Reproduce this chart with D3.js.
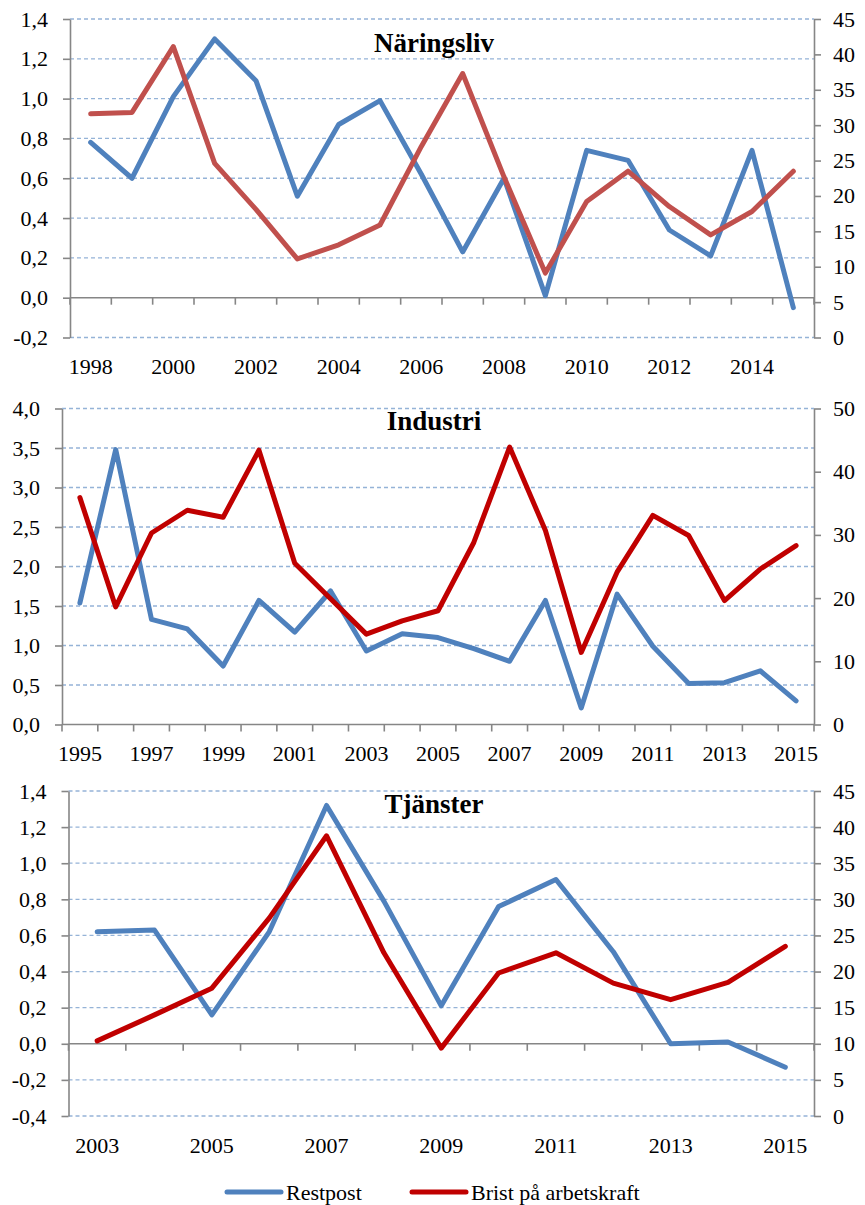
<!DOCTYPE html>
<html>
<head>
<meta charset="utf-8">
<script src="https://cdn.jsdelivr.net/npm/d3@7"></script>
<style>
  body { margin: 0; background: #fff; }
  svg text { font-family: "Liberation Serif", "Times New Roman", serif !important; fill: #000; }
</style>
</head>
<body>
<svg id="chart" width="865" height="1205"></svg>
<script>
// Näringsliv
var naringYears = [1998,1999,2000,2001,2002,2003,2004,2005,2006,2007,2008,2009,2010,2011,2012,2013,2014,2015];
var naringRest  = [0.78,0.60,1.01,1.30,1.09,0.51,0.87,0.99,0.62,0.23,0.60,0.01,0.74,0.69,0.34,0.21,0.74,-0.05];
var naringBrist = [31.6,31.8,41.1,24.6,18.1,11.1,13.1,15.9,27.0,37.3,22.7,9.1,19.2,23.5,18.5,14.5,17.8,23.5];
var naringLabels = [1998,2000,2002,2004,2006,2008,2010,2012,2014];
var naringLeftTicks = [-0.2,0,0.2,0.4,0.6,0.8,1.0,1.2,1.4];
var naringRightTicks = [0,5,10,15,20,25,30,35,40,45];

// Industri
var indYears = [1995,1996,1997,1998,1999,2000,2001,2002,2003,2004,2005,2006,2007,2008,2009,2010,2011,2012,2013,2014,2015];
var indRest  = [1.54,3.48,1.33,1.21,0.74,1.57,1.17,1.69,0.93,1.15,1.10,0.96,0.80,1.57,0.21,1.65,0.99,0.52,0.53,0.68,0.30];
var indBrist = [35.9,18.6,30.3,33.9,32.8,43.4,25.5,19.9,14.3,16.4,18.0,28.8,43.9,30.7,11.4,24.1,33.1,29.9,19.6,24.6,28.3];
var indLabels = [1995,1997,1999,2001,2003,2005,2007,2009,2011,2013,2015];
var indLeftTicks = [0,0.5,1.0,1.5,2.0,2.5,3.0,3.5,4.0];
var indRightTicks = [0,10,20,30,40,50];

// Tjänster
var tjYears = [2003,2004,2005,2006,2007,2008,2009,2010,2011,2012,2013,2014,2015];
var tjRest  = [0.62,0.63,0.16,0.62,1.32,0.79,0.21,0.76,0.91,0.51,0.00,0.01,-0.13];
var tjBrist = [10.4,14.0,17.7,27.4,38.8,22.6,9.4,19.8,22.6,18.4,16.1,18.5,23.5];
var tjLabels = [2003,2005,2007,2009,2011,2013,2015];
var tjLeftTicks = [-0.4,-0.2,0,0.2,0.4,0.6,0.8,1.0,1.2,1.4];
var tjRightTicks = [0,5,10,15,20,25,30,35,40,45];

var blue = "#4f81bd";
var axisGray = "#868686";
var gridBlue = "#95b3d7";
var serif = "'Liberation Serif', 'Times New Roman', serif";

var svg = d3.select("#chart");
var se = d3.formatLocale({decimal: ",", thousands: "\u00a0", grouping: [3], currency: ["", " kr"], minus: "-"});
var fmt1 = se.format(".1f");

var panels = [
  {title: "Näringsliv", years: naringYears, rest: naringRest, brist: naringBrist, labels: naringLabels,
   leftTicks: naringLeftTicks, rightTicks: naringRightTicks, red: "#c0504d",
   left: 70, right: 814, top: 19, bottom: 337.5, titleY: 52},
  {title: "Industri", years: indYears, rest: indRest, brist: indBrist, labels: indLabels,
   leftTicks: indLeftTicks, rightTicks: indRightTicks, red: "#c00000",
   left: 62, right: 814, top: 408.5, bottom: 724.5, titleY: 430},
  {title: "Tjänster", years: tjYears, rest: tjRest, brist: tjBrist, labels: tjLabels,
   leftTicks: tjLeftTicks, rightTicks: tjRightTicks, red: "#c00000",
   left: 68.5, right: 814, top: 791, bottom: 1116, titleY: 813}
];

panels.forEach(function(p) {
  var g = svg.append("g");
  var x = d3.scaleBand().domain(p.years).range([p.left, p.right]).padding(0);
  var yL = d3.scaleLinear().domain([d3.min(p.leftTicks), d3.max(p.leftTicks)]).range([p.bottom, p.top]);
  var yR = d3.scaleLinear().domain([d3.min(p.rightTicks), d3.max(p.rightTicks)]).range([p.bottom, p.top]);
  var y0 = yL(0);

  // dashed gridlines
  g.selectAll(".grid").data(p.leftTicks.filter(function(v) { return v !== 0; }))
    .join("line")
      .attr("x1", p.left).attr("x2", p.right)
      .attr("y1", function(d) { return yL(d); }).attr("y2", function(d) { return yL(d); })
      .attr("stroke", gridBlue).attr("stroke-width", 1.3).attr("stroke-dasharray", "4,3");

  // x axis line at zero + boundary ticks
  g.append("line").attr("x1", p.left).attr("x2", p.right).attr("y1", y0).attr("y2", y0)
    .attr("stroke", axisGray).attr("stroke-width", 1.6);
  var bounds = p.years.map(function(d) { return x(d); }).concat([p.right]);
  g.selectAll(".xt").data(bounds).join("line")
    .attr("x1", function(d) { return d; }).attr("x2", function(d) { return d; })
    .attr("y1", y0).attr("y2", y0 + 7)
    .attr("stroke", axisGray).attr("stroke-width", 1.6);

  // x labels
  var xa = g.append("g").attr("transform", "translate(0," + p.bottom + ")")
    .call(d3.axisBottom(x).tickValues(p.labels).tickSize(0).tickPadding(21).tickFormat(d3.format("d")));
  xa.select(".domain").remove();
  xa.attr("font-family", serif).attr("font-size", 22);
  xa.selectAll("text").style("font-family", serif).style("font-size", "22px");

  // left axis
  var la = g.append("g").attr("transform", "translate(" + p.left + ",0)")
    .call(d3.axisLeft(yL).tickValues(p.leftTicks).tickFormat(fmt1).tickSize(7).tickSizeOuter(0).tickPadding(15));
  // right axis
  var ra = g.append("g").attr("transform", "translate(" + p.right + ",0)")
    .call(d3.axisRight(yR).tickValues(p.rightTicks).tickFormat(d3.format("d")).tickSize(7).tickSizeOuter(0).tickPadding(12));
  [la, ra].forEach(function(a) {
    a.attr("font-family", serif).attr("font-size", 22);
    a.select(".domain").attr("stroke", axisGray).attr("stroke-width", 1.6);
    a.selectAll(".tick line").attr("stroke", axisGray).attr("stroke-width", 1.6);
    a.selectAll("text").style("font-family", serif).style("font-size", "22px");
  });

  // title
  g.append("text").attr("x", 434).attr("y", p.titleY).attr("text-anchor", "middle")
    .style("font-size", "27px").attr("font-weight", "bold").text(p.title);

  // series
  var cx = function(i) { return x(p.years[i]) + x.bandwidth() / 2; };
  var lineL = d3.line().x(function(d, i) { return cx(i); }).y(function(d) { return yL(d); });
  var lineR = d3.line().x(function(d, i) { return cx(i); }).y(function(d) { return yR(d); });
  g.append("path").attr("d", lineL(p.rest)).attr("fill", "none").attr("stroke", blue)
    .attr("stroke-width", 5).attr("stroke-linejoin", "round").attr("stroke-linecap", "round");
  g.append("path").attr("d", lineR(p.brist)).attr("fill", "none").attr("stroke", p.red)
    .attr("stroke-width", 5).attr("stroke-linejoin", "round").attr("stroke-linecap", "round");
});

// legend
var legendItems = [
  {name: "Restpost", color: blue, x: 227},
  {name: "Brist på arbetskraft", color: "#c00000", x: 412}
];
var lg = svg.append("g").attr("transform", "translate(0,1192)");
legendItems.forEach(function(d) {
  lg.append("line").attr("x1", d.x).attr("x2", d.x + 54).attr("y1", 0).attr("y2", 0)
    .attr("stroke", d.color).attr("stroke-width", 5).attr("stroke-linecap", "round");
  lg.append("text").attr("x", d.x + 59).attr("y", 0).attr("dy", "0.35em")
    .style("font-size", "22px").text(d.name);
});
</script>
</body>
</html>
